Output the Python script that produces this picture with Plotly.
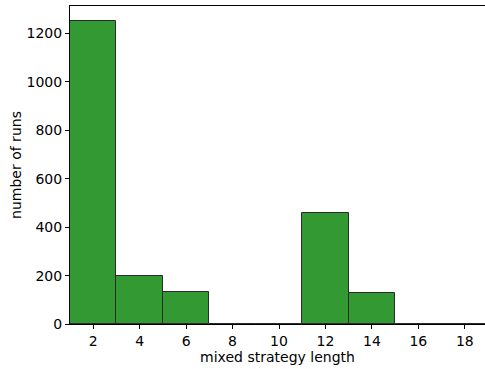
import plotly.graph_objects as go

# Histogram of mixed strategy lengths (bins of width 2)
bin_centers = [2, 4, 6, 8, 10, 12, 14, 16, 18]
run_counts = [1252, 199, 133, 0, 0, 459, 130, 0, 0]
bin_width = 2
x_ticks = [2, 4, 6, 8, 10, 12, 14, 16, 18]
y_ticks = [0, 200, 400, 600, 800, 1000, 1200]

fig = go.Figure()
fig.add_trace(go.Bar(
    x=bin_centers,
    y=run_counts,
    width=[bin_width] * len(bin_centers),
    marker=dict(color="#339933", line=dict(color="#2b2b2b", width=1)),
))

font = dict(family="DejaVu Sans", size=14, color="black")
fig.update_layout(
    width=485, height=369,
    margin=dict(l=70, r=0, t=6, b=45),
    paper_bgcolor="white", plot_bgcolor="white",
    showlegend=False, bargap=0,
    font=font,
    xaxis=dict(
        range=[1, 18.87], tickvals=x_ticks, ticks="outside", ticklen=4,
        tickcolor="black", showline=True, linecolor="black", linewidth=1,
        mirror=True, showgrid=False, zeroline=False,
        title=dict(text="mixed strategy length", font=font, standoff=3),
    ),
    yaxis=dict(
        range=[0, 1314], tickvals=y_ticks, ticks="outside", ticklen=4,
        tickcolor="black", showline=True, linecolor="black", linewidth=1,
        showgrid=False, zeroline=False,
        title=dict(text="number of runs", font=font, standoff=1),
    ),
)

fig.write_html("out.html")
